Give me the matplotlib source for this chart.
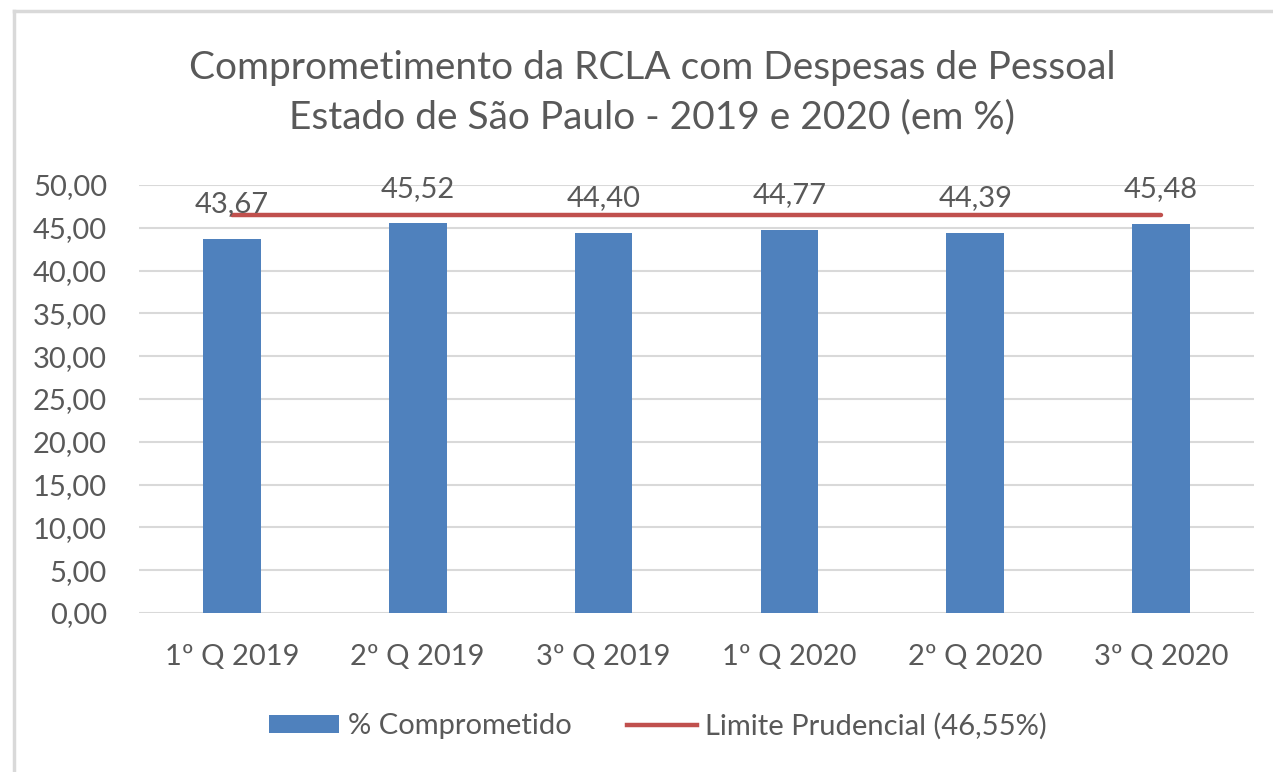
import matplotlib
matplotlib.use('Agg')
import matplotlib.pyplot as plt
from matplotlib.lines import Line2D
from matplotlib.patches import Patch

# Chart data
quarters = ['1º Q 2019', '2º Q 2019', '3º Q 2019', '1º Q 2020', '2º Q 2020', '3º Q 2020']
comprometido = [43.67, 45.52, 44.40, 44.77, 44.39, 45.48]
limite_prudencial = 46.55

bar_color = '#4F81BD'
line_color = '#C0504D'
text_color = '#595959'
grid_color = '#D9D9D9'

plt.rcParams['font.family'] = ['Lato', 'DejaVu Sans']

W, H = 1273, 772
fig = plt.figure(figsize=(W / 100, H / 100), dpi=100)
fig.patch.set_facecolor('white')

ax = fig.add_axes([139 / W, 1 - 613 / H, 1115 / W, 428 / H])

x = list(range(len(quarters)))
ax.bar(x, comprometido, width=0.31, color=bar_color, zorder=2)
ax.plot(x, [limite_prudencial] * len(x), color=line_color, lw=3.2,
        solid_capstyle='round', zorder=3)

# Data labels above the bars
for xi, v in zip(x, comprometido):
    ax.annotate(f'{v:.2f}'.replace('.', ','), (xi, v), xytext=(0, 25),
                textcoords='offset points', ha='center', va='center',
                fontsize=21, color=text_color, zorder=4)

ax.set_xlim(-0.5, len(quarters) - 0.5)
ax.set_ylim(0, 50)
ax.set_yticks(range(0, 51, 5))
ax.set_yticklabels([f'{t:.2f}'.replace('.', ',') for t in range(0, 51, 5)])
ax.set_xticks(x)
ax.set_xticklabels(quarters)
ax.tick_params(axis='both', length=0, labelsize=21, labelcolor=text_color)
ax.tick_params(axis='x', pad=22)
ax.tick_params(axis='y', pad=23)
ax.grid(axis='y', color=grid_color, lw=1.5, zorder=0)
for s in ['top', 'right', 'left', 'bottom']:
    ax.spines[s].set_visible(False)

fig.text(652 / W, 1 - 93 / H,
         'Comprometimento da RCLA com Despesas de Pessoal\nEstado de São Paulo - 2019 e 2020 (em %)',
         ha='center', va='center', fontsize=28, color=text_color, linespacing=1.45)

handles = [Patch(facecolor=bar_color, edgecolor='none', label='% Comprometido'),
           Line2D([0], [0], color=line_color, lw=3.2, label='Limite Prudencial (46,55%)')]
fig.legend(handles=handles, loc='center', bbox_to_anchor=(658 / W, 1 - 726 / H), ncol=2,
           frameon=False, fontsize=21, labelcolor=text_color, handlelength=2.4,
           handleheight=0.55, handletextpad=0.3, columnspacing=1.9)

# Chart border (top and left visible in the reference)
fig.add_artist(Line2D([14 / W, 1], [1 - 11 / H, 1 - 11 / H], color=grid_color, lw=2.5))
fig.add_artist(Line2D([14 / W, 14 / W], [0, 1 - 11 / H], color=grid_color, lw=2.5))

fig.savefig('out.png', dpi=100)
